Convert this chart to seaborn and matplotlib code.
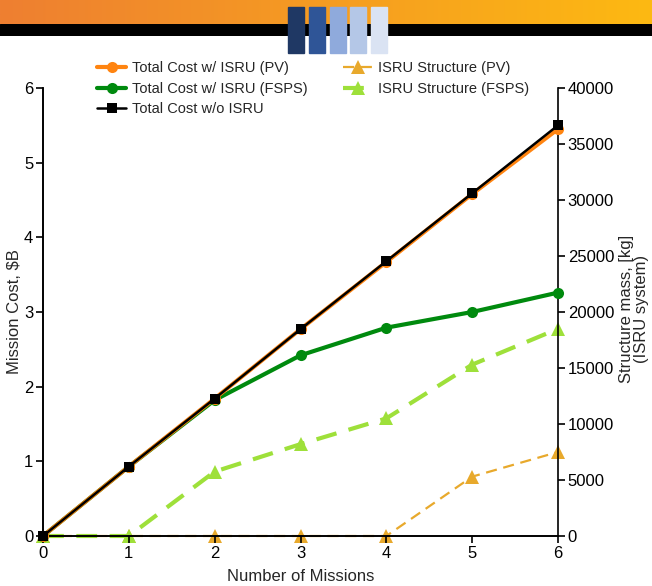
import numpy as np
import matplotlib
matplotlib.use("Agg")
import matplotlib.pyplot as plt
import matplotlib.patches as mpatches
import seaborn as sns
import pandas as pd

missions = [0, 1, 2, 3, 4, 5, 6]
cost_pv = [0, 0.93, 1.84, 2.77, 3.67, 4.58, 5.45]
cost_fsps = [0, 0.93, 1.82, 2.42, 2.79, 3.00, 3.26]
cost_no_isru = [0, 0.93, 1.84, 2.77, 3.68, 4.59, 5.50]
struct_pv = [0, 0, 0, 0, 0, 5300, 7500]
struct_fsps = [0, 0, 5750, 8200, 10500, 15300, 18500]

header_blocks = ["#1F3864", "#2F5597", "#8FAADC", "#B4C7E7", "#DAE3F3"]

sns.set_style("ticks")
plt.rcParams['font.family'] = ['Liberation Sans', 'DejaVu Sans']
plt.rcParams['axes.linewidth'] = 1.2
plt.rcParams['xtick.major.width'] = 1.2
plt.rcParams['ytick.major.width'] = 1.2

df = pd.DataFrame({"missions": missions, "cost_pv": cost_pv, "cost_fsps": cost_fsps,
                   "cost_no_isru": cost_no_isru, "struct_pv": struct_pv,
                   "struct_fsps": struct_fsps})

fig = plt.figure(figsize=(6.52, 5.86), dpi=100)

# header band
hdr = fig.add_axes([0, 1 - 24 / 586, 1, 24 / 586])
grad = np.linspace(0, 1, 256).reshape(1, -1)
cmap = matplotlib.colors.LinearSegmentedColormap.from_list("hdr", ["#EE7F31", "#FDB912"])
hdr.imshow(grad, aspect="auto", cmap=cmap, extent=[0, 1, 0, 1])
hdr.axis("off")
bar = fig.add_axes([0, 1 - 36 / 586, 1, 12 / 586])
bar.set_xlim(0, 1)
bar.set_ylim(0, 1)
bar.add_patch(mpatches.Rectangle((0, 0), 1, 1, color="black"))
bar.axis("off")
for i, c in enumerate(header_blocks):
    x0 = (288 + i * 20.8) / 652
    fig.patches.append(mpatches.Rectangle((x0, 1 - 53 / 586), 16 / 652, 46 / 586,
                                          transform=fig.transFigure, color=c, zorder=5))

ax = fig.add_axes([43 / 652, 1 - 536 / 586, (558 - 43) / 652, (536 - 88) / 586])
ax2 = ax.twinx()

sns.lineplot(data=df, x="missions", y="struct_pv", ax=ax2, color="#E8A92C", lw=1.6,
             linestyle=(0, (5, 3)), marker="^", markersize=10, markeredgewidth=0,
             label="ISRU Structure (PV)", clip_on=False)
sns.lineplot(data=df, x="missions", y="struct_fsps", ax=ax2, color="#9EE03A", lw=3,
             linestyle=(0, (5, 3)), marker="^", markersize=10, markeredgewidth=0,
             label="ISRU Structure (FSPS)", clip_on=False)

sns.lineplot(data=df, x="missions", y="cost_pv", ax=ax, color="#FF8410", lw=3,
             marker="o", markersize=8, markeredgewidth=0,
             label="Total Cost w/ ISRU (PV)", clip_on=False, zorder=3)
sns.lineplot(data=df, x="missions", y="cost_fsps", ax=ax, color="#008A0E", lw=3,
             marker="o", markersize=8, markeredgewidth=0,
             label="Total Cost w/ ISRU (FSPS)", clip_on=False, zorder=2)
sns.lineplot(data=df, x="missions", y="cost_no_isru", ax=ax, color="black", lw=1.8,
             marker="s", markersize=7, markeredgewidth=0,
             label="Total Cost w/o ISRU", clip_on=False, zorder=4)

ax.set_zorder(ax2.get_zorder() + 1)
ax.patch.set_visible(False)

ax.set_xlim(0, 6)
ax.set_ylim(0, 6)
ax2.set_ylim(0, 40000)
ax.set_xticks(missions)
ax.set_yticks(range(0, 7))
ax2.set_yticks(range(0, 40001, 5000))
for a in (ax, ax2):
    a.tick_params(labelsize=12, direction="out", length=5, colors="black", pad=2)
    a.spines["top"].set_visible(False)
    for s in a.spines.values():
        s.set_color("black")
ax.spines["right"].set_visible(False)
ax2.spines["right"].set_visible(True)

ax.set_xlabel("Number of Missions", fontsize=12, labelpad=6)
ax.set_ylabel("Mission Cost, \\$B", fontsize=12)
ax.yaxis.set_label_coords(-0.041, 0.5)
ax2.set_ylabel("")
fig.text(634 / 652, 1 - 309 / 586, "Structure mass, [kg]\n(ISRU system)", fontsize=12,
         rotation=90, ha="center", va="center", linespacing=1.0, multialignment="center")

h1, l1 = ax.get_legend_handles_labels()
h2, l2 = ax2.get_legend_handles_labels()
ax.get_legend().remove()
ax2.get_legend().remove()
fig.legend(h1 + h2, l1 + l2, ncol=2, loc="upper left", bbox_to_anchor=(90 / 652, 1 - 54 / 586),
           frameon=False, fontsize=10.5, handlelength=2.0, handletextpad=0.4,
           columnspacing=2.4, labelspacing=0.45, borderpad=0)

fig.savefig("out.png", dpi=100)
